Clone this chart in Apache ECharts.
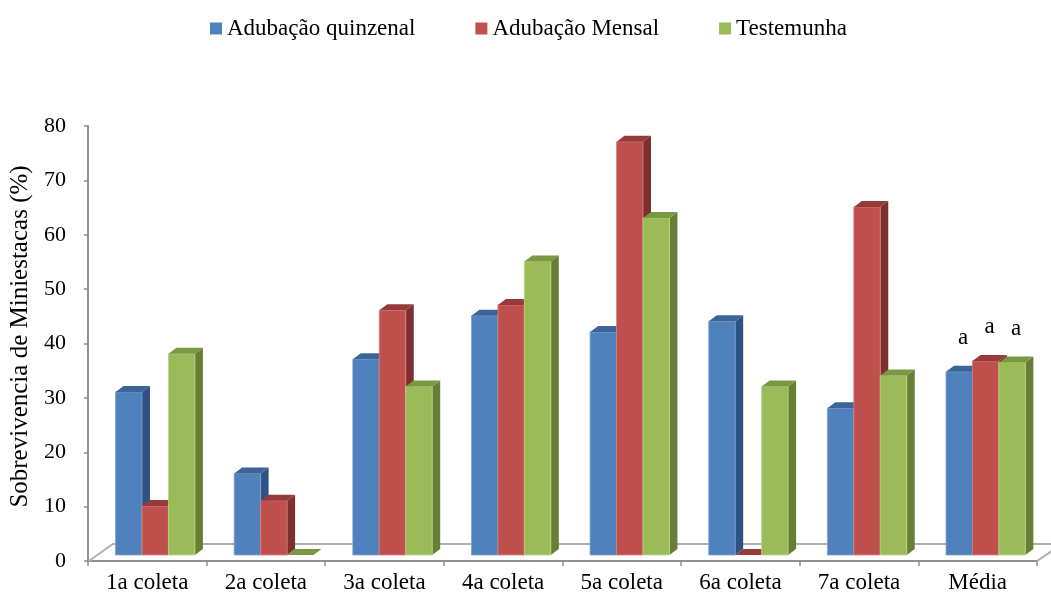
<!DOCTYPE html>
<html>
<head>
<meta charset="utf-8">
<title>Sobrevivência de miniestacas</title>
<script src="https://cdn.jsdelivr.net/npm/echarts@6/dist/echarts.min.js"></script>
<style>
  html, body { margin: 0; padding: 0; background: #ffffff; }
  #chart { width: 1051px; height: 596px; }
</style>
</head>
<body>
<div id="chart"></div>
<script>
// Collections (coletas) and the overall mean
const categories = ['1a coleta', '2a coleta', '3a coleta', '4a coleta', '5a coleta', '6a coleta', '7a coleta', 'Média'];

// Survival of mini-cuttings (%) per treatment
const adubacaoQuinzenal = [30, 15, 36, 44, 41, 43, 27, 33.7];
const adubacaoMensal    = [9, 10, 45, 46, 76, 0, 64, 35.7];
const testemunha        = [37, 0, 31, 54, 62, 31, 33, 35.4];

// Significance letters shown over the mean bars (one per treatment)
const letrasMedia = ['a', 'a', 'a'];

const seriesNames = ['Adubação quinzenal', 'Adubação Mensal', 'Testemunha'];
const seriesValues = [adubacaoQuinzenal, adubacaoMensal, testemunha];

// Face colours of the extruded bars: front, side, top
const palette = [
  { front: '#4F81BD', side: '#2F5282', top: '#3D6498', edge: '#7FA3D3' },
  { front: '#C0504D', side: '#7E2F2E', top: '#963B39', edge: '#D9837F' },
  { front: '#9BBB59', side: '#677F35', top: '#7A9742', edge: '#BCD48A' }
];

const FONT = "'Liberation Serif', 'Times New Roman', serif";
const DEPTH_DX = 8, DEPTH_DY = -6;   // bar extrusion
const LIFT = 6, SHIFT_X = 8;         // bars sit part-way back on the floor
const FLOOR_DX = 25, FLOOR_DY = -17; // floor depth
const BAR_FRACTION = 0.223;          // bar width relative to a category

const chart = echarts.init(document.getElementById('chart'), null, { renderer: 'canvas' });

function makeBarRenderer(sIdx) {
  const col = palette[sIdx];
  return function (params, api) {
    const ci = api.value(0);
    const v = api.value(1);
    const base = api.coord([ci, 0]);
    const top = api.coord([ci, v]);
    const catW = api.size([1, 0])[0];
    const bw = catW * BAR_FRACTION;
    const x0 = base[0] - 1.5 * bw + sIdx * bw + SHIFT_X;
    const yb = base[1] - LIFT;
    const yt = top[1] - LIFT;
    const children = [];
    if (yb - yt > 0.5) {
      children.push({
        type: 'polygon',
        shape: { points: [[x0 + bw, yb], [x0 + bw + DEPTH_DX, yb + DEPTH_DY], [x0 + bw + DEPTH_DX, yt + DEPTH_DY], [x0 + bw, yt]] },
        style: { fill: col.side }
      });
      children.push({
        type: 'rect',
        shape: { x: x0, y: yt, width: bw, height: yb - yt },
        style: { fill: col.front, stroke: col.edge, lineWidth: 0.8 }
      });
    }
    children.push({
      type: 'polygon',
      shape: { points: [[x0, yt], [x0 + DEPTH_DX, yt + DEPTH_DY], [x0 + bw + DEPTH_DX, yt + DEPTH_DY], [x0 + bw, yt]] },
      style: { fill: col.top }
    });
    const letter = api.value(2);
    if (letter) {
      children.push({
        type: 'text',
        style: {
          text: letter, x: x0 + bw / 2 + 4, y: yt + DEPTH_DY - 28,
          align: 'center', verticalAlign: 'middle',
          font: '23px ' + FONT, fill: '#000000'
        }
      });
    }
    return { type: 'group', children: children };
  };
}

const barSeries = seriesValues.map(function (vals, sIdx) {
  return {
    type: 'custom',
    name: seriesNames[sIdx],
    renderItem: makeBarRenderer(sIdx),
    itemStyle: { color: palette[sIdx].front },
    encode: { x: 0, y: 1 },
    clip: false,
    z: 3,
    data: vals.map(function (v, i) {
      const letter = (i === categories.length - 1) ? letrasMedia[sIdx] : '';
      return [i, v, letter];
    })
  };
});

// Floor of the 3-D plot area (drawn behind the bars)
const floorSeries = {
  type: 'custom',
  name: 'piso',
  silent: true,
  clip: false,
  z: 1,
  itemStyle: { color: '#a6a6a6' },
  encode: { x: 0, y: 1 },
  data: [[0, 0]],
  renderItem: function (params, api) {
    const cs = params.coordSys;
    const yf = cs.y + cs.height;
    const xl = cs.x, xr = cs.x + cs.width;
    return {
      type: 'polyline',
      shape: { points: [[xl + 1, yf], [xl + FLOOR_DX, yf + FLOOR_DY], [xr + FLOOR_DX, yf + FLOOR_DY], [xr, yf]] },
      style: { stroke: '#b0b0b0', lineWidth: 2, fill: null }
    };
  }
};

chart.setOption({
  animation: false,
  backgroundColor: '#ffffff',
  textStyle: { fontFamily: FONT },
  legend: {
    data: seriesNames,
    left: 205,
    top: 12,
    icon: 'rect',
    itemWidth: 12,
    itemHeight: 12,
    itemGap: 60,
    textStyle: { fontSize: 23, color: '#000000', fontFamily: FONT }
  },
  grid: { left: 84, right: 14, top: 126, bottom: 35, containLabel: false },
  xAxis: {
    type: 'category',
    data: categories,
    boundaryGap: true,
    axisLine: { lineStyle: { color: '#8f8f8f', width: 2 } },
    axisTick: { show: true, alignWithLabel: false, length: 5, lineStyle: { color: '#8f8f8f', width: 1.5 } },
    axisLabel: { fontSize: 23, color: '#000000', fontFamily: FONT, margin: 10 },
    splitLine: { show: false }
  },
  yAxis: {
    type: 'value',
    min: 0,
    max: 80,
    interval: 10,
    name: 'Sobrevivencia de Miniestacas (%)',
    nameLocation: 'middle',
    nameRotate: 90,
    nameGap: 52,
    nameTextStyle: { fontSize: 25, color: '#000000', fontFamily: FONT, padding: [0, 0, 0, 14] },
    axisLine: { show: true, lineStyle: { color: '#8f8f8f', width: 2 } },
    axisTick: { show: true, length: 4, lineStyle: { color: '#8f8f8f', width: 1.5 } },
    axisLabel: { fontSize: 22, color: '#000000', fontFamily: FONT, margin: 22 },
    splitLine: { show: false }
  },
  series: [floorSeries].concat(barSeries)
});
</script>
</body>
</html>
